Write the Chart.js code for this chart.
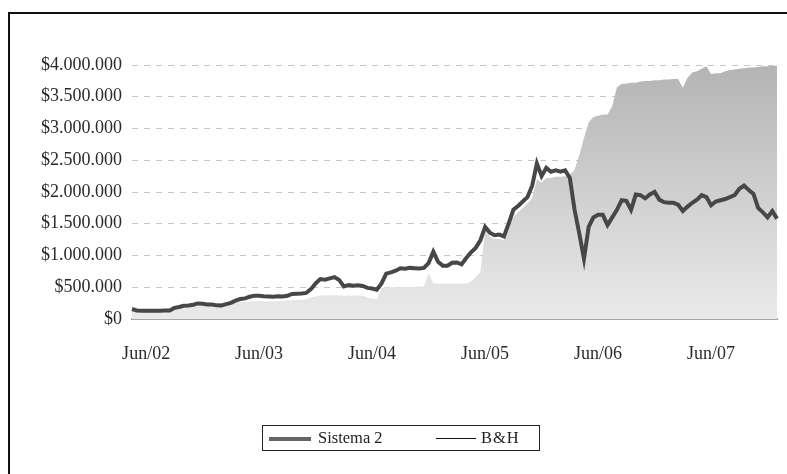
<!DOCTYPE html>
<html>
<head>
<meta charset="utf-8">
<script src="https://cdn.jsdelivr.net/npm/chart.js@4/dist/chart.umd.min.js"></script>
<style>
  html, body { margin: 0; padding: 0; background: #fff; }
  #wrap { position: relative; width: 787px; height: 474px; overflow: hidden; }
  #frame { position: absolute; left: 8px; top: 12px; width: 800px; height: 480px;
           border-top: 2px solid #111; border-left: 2px solid #111; box-sizing: border-box; }
  canvas { position: absolute; left: 0; top: 0; }
  #legend { position: absolute; left: 262px; top: 425px; width: 278px; height: 26px;
            border: 1px solid #222; box-sizing: border-box;
            font-family: "Liberation Serif", "DejaVu Serif", serif; font-size: 16.5px; color: #222; }
  #legend .it { position: absolute; top: 0; height: 24px; line-height: 24px; white-space: nowrap; }
  #legend .ln { position: absolute; }
</style>
</head>
<body>
<div id="wrap">
  <div id="frame"></div>
  <canvas id="c" width="787" height="474"></canvas>
  <div id="legend">
    <span class="ln" style="left:6px;top:11px;width:42px;height:4px;background:#666;"></span>
    <span class="it" style="left:55px;">Sistema 2</span>
    <span class="ln" style="left:173px;top:12px;width:40px;height:1px;background:#111;"></span>
    <span class="it" style="left:218px;letter-spacing:1px;">B&amp;H</span>
  </div>
</div>
<script>
// Categories: half-month sample dates
const dates = [
"2002-04-15","2002-05-01","2002-05-15","2002-06-01","2002-06-15","2002-07-01","2002-07-15","2002-08-01","2002-08-15","2002-09-01","2002-09-15","2002-10-01","2002-10-15","2002-11-01","2002-11-15","2002-12-01","2002-12-15",
"2003-01-01","2003-01-15","2003-02-01","2003-02-15","2003-03-01","2003-03-15","2003-04-01","2003-04-15","2003-05-01","2003-05-15","2003-06-01","2003-06-15","2003-07-01","2003-07-15","2003-08-01","2003-08-15","2003-09-01","2003-09-15","2003-10-01","2003-10-15","2003-11-01","2003-11-15","2003-12-01","2003-12-15",
"2004-01-01","2004-01-15","2004-02-01","2004-02-15","2004-03-01","2004-03-15","2004-04-01","2004-04-15","2004-05-01","2004-05-15","2004-06-01","2004-06-15","2004-07-01","2004-07-15","2004-08-01","2004-08-15","2004-09-01","2004-09-15","2004-10-01","2004-10-15","2004-11-01","2004-11-15","2004-12-01","2004-12-15",
"2005-01-01","2005-01-15","2005-02-01","2005-02-15","2005-03-01","2005-03-15","2005-04-01","2005-04-15","2005-05-01","2005-05-15","2005-06-01","2005-06-15","2005-07-01","2005-07-15","2005-08-01","2005-08-15","2005-09-01","2005-09-15","2005-10-01","2005-10-15","2005-11-01","2005-11-15","2005-12-01","2005-12-15",
"2006-01-01","2006-01-15","2006-02-01","2006-02-15","2006-03-01","2006-03-15","2006-04-01","2006-04-15","2006-05-01","2006-05-15","2006-06-01","2006-06-15","2006-07-01","2006-07-15","2006-08-01","2006-08-15","2006-09-01","2006-09-15","2006-10-01","2006-10-15","2006-11-01","2006-11-15","2006-12-01","2006-12-15",
"2007-01-01","2007-01-15","2007-02-01","2007-02-15","2007-03-01","2007-03-15","2007-04-01","2007-04-15","2007-05-01","2007-05-15","2007-06-01","2007-06-15","2007-07-01","2007-07-15","2007-08-01","2007-08-15","2007-09-01","2007-09-15","2007-10-01","2007-10-15","2007-11-01","2007-11-15","2007-12-01","2007-12-15",
"2008-01-01"
];

// Sistema 2 (thick dark line)
const sistema2 = [
157000,135000,130000,130000,130000,130000,130000,132000,135000,175000,190000,209000,212000,225000,245000,240000,230000,
228000,215000,214000,235000,255000,290000,314000,325000,350000,368000,366000,358000,355000,350000,358000,356000,365000,395000,398000,400000,410000,470000,560000,
628000,620000,640000,659000,615000,513000,535000,525000,530000,520000,490000,480000,460000,560000,715000,735000,760000,800000,790000,805000,800000,795000,805000,
880000,1060000,900000,840000,840000,885000,890000,860000,960000,1050000,1120000,1240000,1450000,1360000,1320000,1330000,1300000,1500000,1720000,1780000,1850000,1920000,2100000,2450000,
2250000,2380000,2320000,2340000,2320000,2340000,2220000,1720000,1350000,950000,1450000,1600000,1640000,1640000,1480000,1600000,1720000,1870000,1860000,1720000,1960000,1950000,1900000,1960000,2000000,
1880000,1840000,1830000,1830000,1800000,1700000,1770000,1830000,1880000,1950000,1920000,1790000,1850000,1870000,1890000,1920000,1950000,2050000,2100000,2030000,1970000,1750000,1680000,1600000,1700000,1580000
];

// B&H (grey filled area)
const bh = [
140000,125000,120000,120000,120000,120000,120000,122000,125000,160000,175000,190000,195000,200000,210000,210000,210000,
210000,205000,205000,215000,235000,255000,265000,270000,275000,280000,285000,280000,280000,275000,280000,285000,290000,295000,300000,305000,310000,340000,360000,
370000,370000,375000,375000,370000,365000,370000,372000,370000,365000,340000,320000,310000,490000,500000,500000,500000,505000,505000,505000,505000,510000,510000,
720000,560000,555000,555000,555000,555000,555000,555000,560000,590000,660000,742000,1380000,1300000,1260000,1260000,1240000,1400000,1600000,1680000,1750000,1820000,1900000,2200000,
2150000,2220000,2220000,2240000,2240000,2250000,2270000,2350000,2580000,2850000,3100000,3180000,3200000,3220000,3220000,3350000,3650000,3700000,3710000,3720000,3720000,3740000,3750000,3750000,3760000,
3760000,3770000,3770000,3780000,3780000,3640000,3800000,3880000,3900000,3940000,3980000,3860000,3870000,3870000,3900000,3920000,3930000,3940000,3950000,3960000,3960000,3970000,3980000,3980000,3990000,3990000
];

// x-axis tick labels and their category dates
const tickDates  = ["2002-06-01","2003-06-01","2004-06-01","2005-06-01","2006-06-01","2007-06-01"];
const tickLabels = ["Jun/02","Jun/03","Jun/04","Jun/05","Jun/06","Jun/07"];

function money(v) {
  return "$" + String(Math.round(v)).replace(/\B(?=(\d{3})+(?!\d))/g, ".");
}

const FONT = { family: "'Liberation Serif', 'DejaVu Serif', serif", size: 18 };

new Chart(document.getElementById("c"), {
  type: "line",
  data: {
    labels: dates,
    datasets: [
      {
        label: "Sistema 2",
        data: sistema2,
        borderColor: "#474747",
        borderWidth: 4,
        pointRadius: 0,
        fill: false,
        tension: 0,
        order: 0
      },
      {
        label: "B&H",
        data: bh,
        borderWidth: 0,
        borderColor: "rgba(0,0,0,0)",
        pointRadius: 0,
        fill: "origin",
        tension: 0,
        order: 1,
        backgroundColor: (ctx) => {
          const ca = ctx.chart.chartArea;
          if (!ca) return "#d0d0d0";
          const g = ctx.chart.ctx.createLinearGradient(0, ca.top, 0, ca.bottom);
          g.addColorStop(0, "#b4b4b4");
          g.addColorStop(1, "#eaeaea");
          return g;
        }
      }
    ]
  },
  options: {
    responsive: false,
    animation: false,
    layout: { padding: { top: 65, right: 10, left: 0, bottom: 0 } },
    plugins: { legend: { display: false }, tooltip: { enabled: false } },
    scales: {
      x: {
        type: "category",
        offset: false,
        grid: { display: false, drawTicks: false },
        border: { display: true, color: "#a6a6a6", width: 2 },
        afterFit: (s) => { s.height = 155; },
        afterBuildTicks: (axis) => {
          axis.ticks = axis.ticks.filter(t => tickDates.includes(dates[t.value]));
        },
        ticks: {
          autoSkip: false,
          maxRotation: 0,
          padding: 24,
          color: "#2a2a2a",
          font: FONT,
          callback: function (value) {
            const i = tickDates.indexOf(dates[value]);
            return i >= 0 ? tickLabels[i] : "";
          }
        }
      },
      y: {
        min: 0,
        max: 4000000,
        afterFit: (s) => { s.width = 132; },
        grid: { color: "#c6c6c6", lineWidth: 1, drawTicks: false },
        border: { display: false, dash: [6, 6] },
        ticks: {
          stepSize: 500000,
          padding: 10,
          color: "#2a2a2a",
          font: FONT,
          callback: (v) => money(v)
        }
      }
    }
  }
});
</script>
</body>
</html>
